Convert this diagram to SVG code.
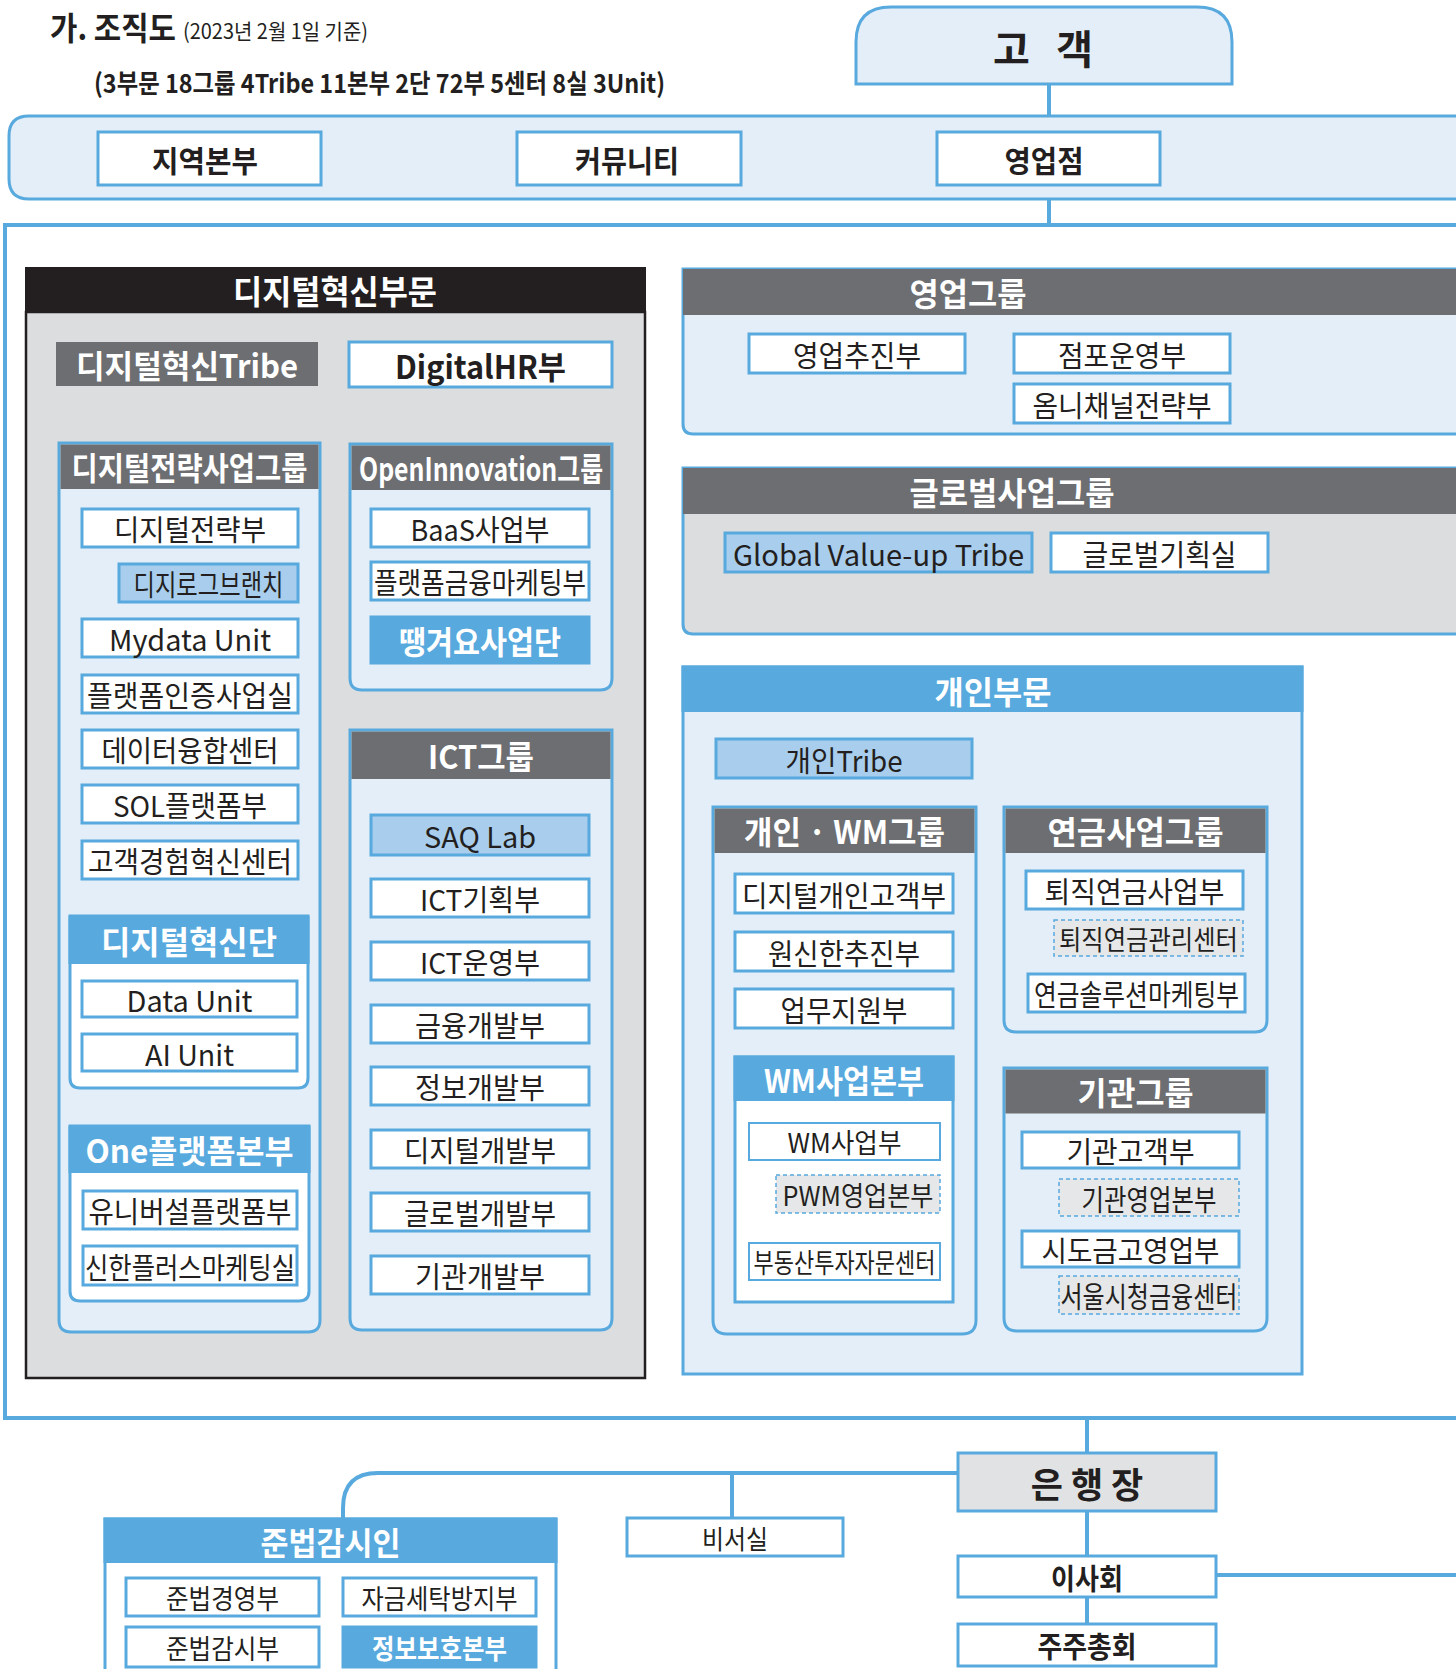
<svg xmlns="http://www.w3.org/2000/svg" width="1456" height="1669" viewBox="0 0 1456 1669">
<style>
.t{font-family:"Noto Sans CJK KR","Noto Sans",sans-serif;font-size:29px;fill:#231f20;text-anchor:middle;dominant-baseline:central}
.s{text-anchor:start;dominant-baseline:auto}
.b{font-weight:700}
.w{fill:#fff}
.hT{font-weight:700;fill:#fff;font-size:32px}
.box{fill:#fff;stroke:#58a9de;stroke-width:3}
.box2{fill:#fff;stroke:#58a9de;stroke-width:2}
.lb{fill:#a9cdec;stroke:#58a9de;stroke-width:3}
.bb{fill:#58a9de;stroke:#58a9de;stroke-width:3}
.dbox{fill:#e6e7e8;stroke:#58a9de;stroke-width:1.5;stroke-dasharray:4 3}
.panel{fill:#e3eef9;stroke:#58a9de;stroke-width:3}
.gpanel{fill:#dcdddf;stroke:#58a9de;stroke-width:3}
.wpanel{fill:#fff;stroke:#58a9de;stroke-width:3}
.hd{fill:#6d6e71}
.hb{fill:#58a9de}
.ln{fill:none;stroke:#58a9de;stroke-width:4}
.dl{fill:none;stroke:#58a9de;stroke-width:1.5;stroke-dasharray:4 3}
</style>

<g id="title">
<text class="t s b" x="50" y="40" style="font-size:32px" textLength="126" lengthAdjust="spacingAndGlyphs">가. 조직도</text>
<text class="t s" x="183" y="39" style="font-size:21px" textLength="185" lengthAdjust="spacingAndGlyphs">(2023년 2월 1일 기준)</text>
<text class="t s b" x="94" y="93" style="font-size:26px" textLength="571" lengthAdjust="spacingAndGlyphs">(3부문 18그룹 4Tribe 11본부 2단 72부 5센터 8실 3Unit)</text>
</g>

<g id="main-container"><rect x="5" y="225" width="1480" height="1193" fill="#fff" stroke="#58a9de" stroke-width="4"/></g>

<g id="customer">
<path class="panel" d="M856,84 V42 Q856,7 891,7 H1197 Q1232,7 1232,42 V84 Z"/>
<text class="t b" x="1043" y="47" style="font-size:40px" textLength="100" lengthAdjust="spacing">고 객</text>
</g>

<g id="channel-band">
<path class="panel" d="M1470,116 H29 Q9,116 9,136 V179 Q9,199 29,199 H1470 Z"/>
</g>
<g id="n-region"><rect class="box" x="98" y="132" width="223" height="53"/><text class="t b" x="205" y="158.5" style="font-size:30px" textLength="106" lengthAdjust="spacingAndGlyphs">지역본부</text></g>
<g id="n-community"><rect class="box" x="517" y="132" width="224" height="53"/><text class="t b" x="627" y="158.5" style="font-size:30px" textLength="104" lengthAdjust="spacingAndGlyphs">커뮤니티</text></g>
<g id="n-branch"><rect class="box" x="937" y="132" width="223" height="53"/><text class="t b" x="1044" y="158.5" style="font-size:30px" textLength="79" lengthAdjust="spacingAndGlyphs">영업점</text></g>

<g id="connectors">
<path class="ln" d="M1049,84 V116"/>
<path class="ln" d="M1049,199 V225"/>
<path class="ln" d="M1087,1418 V1453"/>
<path class="ln" d="M958,1473 H378 Q343,1473 343,1508 V1519"/>
<path class="ln" d="M732,1473 V1518"/>
<path class="ln" d="M1087,1511 V1556"/>
<path class="ln" d="M1216,1575 H1456"/>
<path class="ln" d="M1087,1597 V1624"/>
<path class="dl" d="M93,547 V579 Q93,587 101,587 H119"/>
<path class="dl" d="M1034,909 V929 Q1034,937 1042,937 H1054"/>
<path class="dl" d="M756,1160 V1186 Q756,1194 764,1194 H776"/>
<path class="dl" d="M1030,1168 V1190 Q1030,1198 1038,1198 H1059"/>
<path class="dl" d="M1030,1267 V1287 Q1030,1295 1038,1295 H1059"/>
</g>

<g id="digital-division">
<rect x="26" y="312" width="619" height="1066" fill="#dcdddf" stroke="#231f20" stroke-width="2.5"/>
<rect x="25" y="267" width="621" height="46" fill="#231f20"/>
<text class="t hT" x="335" y="290" style="font-size:33px" textLength="204" lengthAdjust="spacingAndGlyphs">디지털혁신부문</text>
</g>
<g id="n-dtribe"><rect x="56" y="342" width="262" height="44" fill="#6d6e71"/><text class="t hT" x="187" y="364" textLength="222" lengthAdjust="spacingAndGlyphs">디지털혁신Tribe</text></g>
<g id="n-digitalhr"><rect class="box" x="349" y="342" width="263" height="45"/><text class="t b" x="480.5" y="364.5" style="font-size:32px" textLength="171" lengthAdjust="spacingAndGlyphs">DigitalHR부</text></g>

<g id="g-dstrategy">
<path class="panel" d="M59,443 H320 V1320 Q320,1332 308,1332 H71 Q59,1332 59,1320 Z"/>
<rect class="hd" x="60.5" y="444.5" width="258" height="44.5"/>
<text class="t hT" x="189.5" y="466" textLength="236" lengthAdjust="spacingAndGlyphs">디지털전략사업그룹</text>
</g>
<g id="n-ds1"><rect class="box" x="82" y="509" width="216" height="38"/><text class="t" x="190" y="528" textLength="152" lengthAdjust="spacingAndGlyphs">디지털전략부</text></g>
<g id="n-ds2"><rect class="lb" x="119" y="564" width="179" height="38"/><text class="t" x="208.5" y="583" textLength="150" lengthAdjust="spacingAndGlyphs">디지로그브랜치</text></g>
<g id="n-ds3"><rect class="box" x="82" y="619" width="216" height="38"/><text class="t" x="190" y="638" textLength="162" lengthAdjust="spacingAndGlyphs">Mydata Unit</text></g>
<g id="n-ds4"><rect class="box" x="82" y="675" width="216" height="38"/><text class="t" x="190" y="694" textLength="206" lengthAdjust="spacingAndGlyphs">플랫폼인증사업실</text></g>
<g id="n-ds5"><rect class="box" x="82" y="730" width="216" height="38"/><text class="t" x="190" y="749" textLength="177" lengthAdjust="spacingAndGlyphs">데이터융합센터</text></g>
<g id="n-ds6"><rect class="box" x="82" y="785" width="216" height="38"/><text class="t" x="190" y="804" textLength="154" lengthAdjust="spacingAndGlyphs">SOL플랫폼부</text></g>
<g id="n-ds7"><rect class="box" x="82" y="841" width="216" height="38"/><text class="t" x="190" y="860" textLength="204" lengthAdjust="spacingAndGlyphs">고객경험혁신센터</text></g>

<g id="g-dinno">
<path class="wpanel" d="M70,916 H308 V1078 Q308,1088 298,1088 H80 Q70,1088 70,1078 Z"/>
<rect class="hb" x="68.5" y="916" width="241" height="48"/>
<text class="t hT" x="189" y="940" textLength="176" lengthAdjust="spacingAndGlyphs">디지털혁신단</text>
</g>
<g id="n-dataunit"><rect class="box" x="82" y="981" width="215" height="36"/><text class="t" x="189.5" y="999" textLength="126" lengthAdjust="spacingAndGlyphs">Data Unit</text></g>
<g id="n-aiunit"><rect class="box" x="82" y="1034" width="215" height="37"/><text class="t" x="189.5" y="1052.5" textLength="89" lengthAdjust="spacingAndGlyphs">AI Unit</text></g>

<g id="g-oneplatform">
<path class="wpanel" d="M70,1126 H309 V1291 Q309,1301 299,1301 H80 Q70,1301 70,1291 Z"/>
<rect class="hb" x="68.5" y="1126" width="242" height="47"/>
<text class="t hT" x="189.5" y="1149" textLength="208" lengthAdjust="spacingAndGlyphs">One플랫폼본부</text>
</g>
<g id="n-op1"><rect class="box" x="83" y="1191" width="214" height="38"/><text class="t" x="190" y="1210" textLength="203" lengthAdjust="spacingAndGlyphs">유니버설플랫폼부</text></g>
<g id="n-op2"><rect class="box" x="83" y="1246" width="214" height="39"/><text class="t" x="190" y="1265.5" textLength="210" lengthAdjust="spacingAndGlyphs">신한플러스마케팅실</text></g>

<g id="g-openinno">
<path class="panel" d="M350,444 H612 V678 Q612,690 600,690 H362 Q350,690 350,678 Z"/>
<rect class="hd" x="351.5" y="445.5" width="259" height="44.5"/>
<text class="t hT" x="481" y="467" textLength="244" lengthAdjust="spacingAndGlyphs">OpenInnovation그룹</text>
</g>
<g id="n-oi1"><rect class="box" x="371" y="509" width="218" height="38"/><text class="t" x="480" y="528" textLength="139" lengthAdjust="spacingAndGlyphs">BaaS사업부</text></g>
<g id="n-oi2"><rect class="box" x="371" y="562" width="218" height="38"/><text class="t" x="480" y="581" textLength="212" lengthAdjust="spacingAndGlyphs">플랫폼금융마케팅부</text></g>
<g id="n-oi3"><rect class="bb" x="371" y="617" width="218" height="46"/><text class="t hT" x="480" y="640" textLength="162" lengthAdjust="spacingAndGlyphs">땡겨요사업단</text></g>

<g id="g-ict">
<path class="panel" d="M350,730 H612 V1318 Q612,1330 600,1330 H362 Q350,1330 350,1318 Z"/>
<rect class="hd" x="351.5" y="731.5" width="259" height="47.5"/>
<text class="t hT" x="481" y="755" textLength="106" lengthAdjust="spacingAndGlyphs">ICT그룹</text>
</g>
<g id="n-ict0"><rect class="lb" x="371" y="815" width="218" height="40"/><text class="t" x="480" y="835" textLength="112" lengthAdjust="spacingAndGlyphs">SAQ Lab</text></g>
<g id="n-ict1"><rect class="box" x="371" y="879" width="218" height="38"/><text class="t" x="480" y="898" textLength="120" lengthAdjust="spacingAndGlyphs">ICT기획부</text></g>
<g id="n-ict2"><rect class="box" x="371" y="942" width="218" height="38"/><text class="t" x="480" y="961" textLength="120" lengthAdjust="spacingAndGlyphs">ICT운영부</text></g>
<g id="n-ict3"><rect class="box" x="371" y="1005" width="218" height="38"/><text class="t" x="480" y="1024" textLength="130" lengthAdjust="spacingAndGlyphs">금융개발부</text></g>
<g id="n-ict4"><rect class="box" x="371" y="1067" width="218" height="38"/><text class="t" x="480" y="1086" textLength="130" lengthAdjust="spacingAndGlyphs">정보개발부</text></g>
<g id="n-ict5"><rect class="box" x="371" y="1130" width="218" height="38"/><text class="t" x="480" y="1149" textLength="152" lengthAdjust="spacingAndGlyphs">디지털개발부</text></g>
<g id="n-ict6"><rect class="box" x="371" y="1193" width="218" height="38"/><text class="t" x="480" y="1212" textLength="152" lengthAdjust="spacingAndGlyphs">글로벌개발부</text></g>
<g id="n-ict7"><rect class="box" x="371" y="1256" width="218" height="38"/><text class="t" x="480" y="1275" textLength="130" lengthAdjust="spacingAndGlyphs">기관개발부</text></g>

<g id="g-sales">
<path class="panel" d="M1470,269 H683 V424 Q683,434 693,434 H1470 Z"/>
<rect class="hd" x="683" y="269" width="780" height="46"/>
<text class="t hT" x="968" y="292" textLength="117" lengthAdjust="spacingAndGlyphs">영업그룹</text>
</g>
<g id="n-sa1"><rect class="box" x="749" y="334" width="216" height="39"/><text class="t" x="857" y="353.5" textLength="128" lengthAdjust="spacingAndGlyphs">영업추진부</text></g>
<g id="n-sa2"><rect class="box" x="1014" y="334" width="216" height="39"/><text class="t" x="1122" y="353.5" textLength="128" lengthAdjust="spacingAndGlyphs">점포운영부</text></g>
<g id="n-sa3"><rect class="box" x="1014" y="384" width="216" height="39"/><text class="t" x="1122" y="403.5" textLength="179" lengthAdjust="spacingAndGlyphs">옴니채널전략부</text></g>

<g id="g-global">
<path class="gpanel" d="M1470,468 H683 V624 Q683,634 693,634 H1470 Z"/>
<rect class="hd" x="683" y="468" width="780" height="46"/>
<text class="t hT" x="1012" y="491" textLength="205" lengthAdjust="spacingAndGlyphs">글로벌사업그룹</text>
</g>
<g id="n-gl1"><rect class="lb" x="725" y="533" width="307" height="39"/><text class="t" x="878.5" y="552.5" textLength="291" lengthAdjust="spacingAndGlyphs">Global Value-up Tribe</text></g>
<g id="n-gl2"><rect class="box" x="1051" y="533" width="217" height="39"/><text class="t" x="1159.5" y="552.5" textLength="154" lengthAdjust="spacingAndGlyphs">글로벌기획실</text></g>

<g id="personal-division">
<rect class="panel" x="683" y="667" width="619" height="707"/>
<rect class="hb" x="681.5" y="665.5" width="622" height="46.5"/>
<text class="t hT" x="993" y="689.5" textLength="117" lengthAdjust="spacingAndGlyphs">개인부문</text>
</g>
<g id="n-ptribe"><rect class="lb" x="716" y="739" width="256" height="39"/><text class="t" x="844" y="758.5" textLength="117" lengthAdjust="spacingAndGlyphs">개인Tribe</text></g>

<g id="g-pwm">
<path class="panel" d="M713,807 H976 V1320 Q976,1334 962,1334 H727 Q713,1334 713,1320 Z"/>
<rect class="hd" x="714.5" y="808.5" width="260" height="44.5"/>
<text class="t hT" x="844.5" y="830" textLength="201" lengthAdjust="spacingAndGlyphs">개인 · WM그룹</text>
</g>
<g id="n-pw1"><rect class="box" x="735" y="874" width="218" height="39"/><text class="t" x="844" y="893.5" textLength="204" lengthAdjust="spacingAndGlyphs">디지털개인고객부</text></g>
<g id="n-pw2"><rect class="box" x="735" y="932" width="218" height="39"/><text class="t" x="844" y="951.5" textLength="152" lengthAdjust="spacingAndGlyphs">원신한추진부</text></g>
<g id="n-pw3"><rect class="box" x="735" y="989" width="218" height="39"/><text class="t" x="844" y="1008.5" textLength="127" lengthAdjust="spacingAndGlyphs">업무지원부</text></g>

<g id="g-wmhq">
<rect class="wpanel" x="735" y="1057" width="218" height="245"/>
<rect class="hb" x="733.5" y="1055.5" width="221" height="45.5"/>
<text class="t hT" x="844" y="1079" textLength="160" lengthAdjust="spacingAndGlyphs">WM사업본부</text>
</g>
<g id="n-wm1"><rect class="box2" x="749" y="1123" width="191" height="37"/><text class="t" x="844.5" y="1141.5" style="font-size:27px" textLength="114" lengthAdjust="spacingAndGlyphs">WM사업부</text></g>
<g id="n-wm2"><rect class="dbox" x="776" y="1175" width="164" height="38"/><text class="t" x="858" y="1194" style="font-size:27px" textLength="151" lengthAdjust="spacingAndGlyphs">PWM영업본부</text></g>
<g id="n-wm3"><rect class="box2" x="749" y="1243" width="191" height="37"/><text class="t" x="844.5" y="1261.5" style="font-size:27px" textLength="182" lengthAdjust="spacingAndGlyphs">부동산투자자문센터</text></g>

<g id="g-pension">
<path class="panel" d="M1004,807 H1267 V1020 Q1267,1032 1255,1032 H1016 Q1004,1032 1004,1020 Z"/>
<rect class="hd" x="1005.5" y="808.5" width="260" height="44.5"/>
<text class="t hT" x="1135.5" y="830" textLength="176" lengthAdjust="spacingAndGlyphs">연금사업그룹</text>
</g>
<g id="n-pe1"><rect class="box" x="1026" y="871" width="217" height="38"/><text class="t" x="1134.5" y="890" textLength="180" lengthAdjust="spacingAndGlyphs">퇴직연금사업부</text></g>
<g id="n-pe2"><rect class="dbox" x="1054" y="920" width="189" height="36"/><text class="t" x="1148.5" y="938" style="font-size:27px" textLength="179" lengthAdjust="spacingAndGlyphs">퇴직연금관리센터</text></g>
<g id="n-pe3"><rect class="box" x="1028" y="974" width="217" height="38"/><text class="t" x="1136.5" y="993" textLength="205" lengthAdjust="spacingAndGlyphs">연금솔루션마케팅부</text></g>

<g id="g-inst">
<path class="panel" d="M1004,1068 H1267 V1318 Q1267,1331 1254,1331 H1017 Q1004,1331 1004,1318 Z"/>
<rect class="hd" x="1005.5" y="1069.5" width="260" height="44"/>
<text class="t hT" x="1135.5" y="1091" textLength="116" lengthAdjust="spacingAndGlyphs">기관그룹</text>
</g>
<g id="n-in1"><rect class="box" x="1022" y="1132" width="217" height="36"/><text class="t" x="1130.5" y="1150" textLength="128" lengthAdjust="spacingAndGlyphs">기관고객부</text></g>
<g id="n-in2"><rect class="dbox" x="1059" y="1179" width="180" height="37"/><text class="t" x="1149" y="1197.5" textLength="135" lengthAdjust="spacingAndGlyphs">기관영업본부</text></g>
<g id="n-in3"><rect class="box" x="1022" y="1231" width="217" height="36"/><text class="t" x="1130.5" y="1249" textLength="178" lengthAdjust="spacingAndGlyphs">시도금고영업부</text></g>
<g id="n-in4"><rect class="dbox" x="1059" y="1276" width="180" height="38"/><text class="t" x="1149" y="1295" textLength="177" lengthAdjust="spacingAndGlyphs">서울시청금융센터</text></g>

<g id="g-compliance">
<rect class="wpanel" x="105" y="1519" width="451" height="170"/>
<rect class="hb" x="103.5" y="1517.5" width="454" height="45.5"/>
<text class="t hT" x="330.5" y="1541" textLength="140" lengthAdjust="spacingAndGlyphs">준법감시인</text>
</g>
<g id="n-co1"><rect class="box" x="126" y="1578" width="193" height="38"/><text class="t" x="222.5" y="1597" style="font-size:27px" textLength="113" lengthAdjust="spacingAndGlyphs">준법경영부</text></g>
<g id="n-co2"><rect class="box" x="343" y="1578" width="193" height="38"/><text class="t" x="439.5" y="1597" style="font-size:27px" textLength="156" lengthAdjust="spacingAndGlyphs">자금세탁방지부</text></g>
<g id="n-co3"><rect class="box" x="126" y="1627" width="193" height="40"/><text class="t" x="222.5" y="1647" style="font-size:27px" textLength="113" lengthAdjust="spacingAndGlyphs">준법감시부</text></g>
<g id="n-co4"><rect class="bb" x="343" y="1627" width="193" height="40"/><text class="t w b" x="439.5" y="1647" style="font-size:27px" textLength="135" lengthAdjust="spacingAndGlyphs">정보보호본부</text></g>

<g id="n-secretary"><rect class="box" x="627" y="1518" width="216" height="38"/><text class="t" x="735" y="1537" style="font-size:26px" textLength="66" lengthAdjust="spacingAndGlyphs">비서실</text></g>
<g id="n-ceo"><rect x="958" y="1453" width="258" height="58" fill="#e1e2e4" stroke="#58a9de" stroke-width="3"/><text class="t b" x="1087" y="1482" style="font-size:35px">은 행 장</text></g>
<g id="n-board"><rect class="box" x="958" y="1556" width="258" height="41"/><text class="t b" x="1087" y="1576.5" textLength="72" lengthAdjust="spacingAndGlyphs">이사회</text></g>
<g id="n-shareholders"><rect class="box" x="958" y="1624" width="258" height="42"/><text class="t b" x="1087" y="1645" textLength="99" lengthAdjust="spacingAndGlyphs">주주총회</text></g>
</svg>
